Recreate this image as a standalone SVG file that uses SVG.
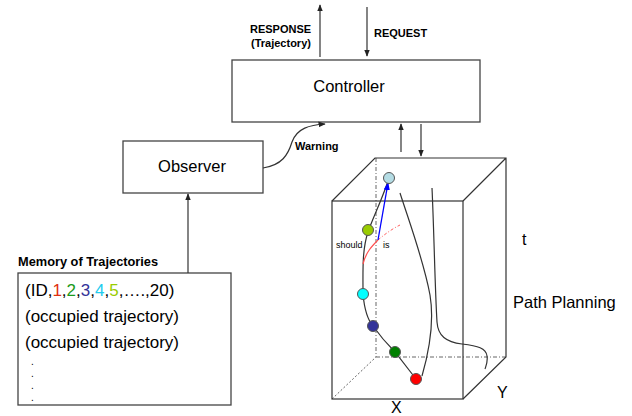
<svg xmlns="http://www.w3.org/2000/svg" width="632" height="416" viewBox="0 0 632 416">
<defs>
<style>
.box{fill:#fff;stroke:#444;stroke-width:1.3}
.t{font-family:"Liberation Sans",Arial,sans-serif;fill:#000}
.b{font-family:"Liberation Sans",Arial,sans-serif;font-weight:bold;fill:#000}
.ln{fill:none;stroke:#333;stroke-width:1.2}
.edge{fill:none;stroke:#333;stroke-width:1.2}
.hid{fill:none;stroke:#666;stroke-width:1;stroke-dasharray:4 2 1 2}
.dot{fill:none;stroke:#666;stroke-width:1;stroke-dasharray:2 2}
.pt{stroke:#555;stroke-width:1}
</style>
<marker id="ah" viewBox="0 0 10 10" refX="9" refY="5" markerWidth="6" markerHeight="6" orient="auto-start-reverse"><path d="M0,1 L10,5 L0,9 z" fill="#222"/></marker>
<marker id="ahb" viewBox="0 0 10 10" refX="9" refY="5" markerWidth="6" markerHeight="6" orient="auto"><path d="M0,1 L10,5 L0,9 z" fill="#0000ff"/></marker>
</defs>

<g id="controller">
<rect class="box" x="232" y="60" width="248" height="62"/>
<text class="t" x="349" y="92" font-size="16.5" text-anchor="middle">Controller</text>
</g>

<g id="observer">
<rect class="box" x="123" y="141" width="140" height="52"/>
<text class="t" x="192" y="172" font-size="16.5" text-anchor="middle">Observer</text>
</g>

<g id="memory">
<text class="b" x="18" y="266" font-size="12.8">Memory of Trajectories</text>
<rect class="box" x="18" y="273" width="213" height="132" stroke="#555" stroke-width="1.5"/>
<text class="t" x="25" y="296" font-size="17">(ID,<tspan fill="#e03010">1</tspan>,<tspan fill="#1a9a1a">2</tspan>,<tspan fill="#333399">3</tspan>,<tspan fill="#22ccee">4</tspan>,<tspan fill="#99cc00">5</tspan>,….,20)</text>
<text class="t" x="25" y="322" font-size="17">(occupied trajectory)</text>
<text class="t" x="25" y="348" font-size="17">(occupied trajectory)</text>
<text class="t" x="31" y="365" font-size="10">.</text>
<text class="t" x="31" y="377" font-size="10">.</text>
<text class="t" x="31" y="389" font-size="10">.</text>
<text class="t" x="31" y="401" font-size="10">.</text>
</g>

<g id="pathplanning">
<line class="hid" x1="376" y1="158" x2="376" y2="357"/>
<line class="hid" x1="376" y1="357" x2="506" y2="357"/>
<line class="dot" x1="332" y1="399" x2="376" y2="357"/>
<path class="edge" d="M332,201 L375,158 L506,158 L506,357 L463,399 M463,201 L506,158"/>
<rect x="332" y="201" width="131" height="198" fill="none" stroke="#333" stroke-width="1.2"/>
<path class="ln" d="M400,193 C412,230 424,262 430,295 C435,325 428,355 422,376"/>
<path class="ln" d="M432,188 C434,230 435,290 437,322 C438,336 446,342 462,344 C478,346 486,348 487,356 C488,362 486,366 485,369"/>
<path class="ln" d="M389,178 C382,200 374,215 368,232 C362,250 363,270 363,294 C364,305 366,318 373,326 C380,336 388,345 395,352 L416,379"/>
<path d="M363,264 C366,252 372,246 378,240" fill="none" stroke="#ff5050" stroke-width="1.2"/>
<path d="M378,240 C385,234 392,229 400,225" fill="none" stroke="#ff6060" stroke-width="1" stroke-dasharray="3 2 1 2"/>
<line x1="378" y1="240" x2="388" y2="183" stroke="#0000ff" stroke-width="1.3" marker-end="url(#ahb)"/>
<circle class="pt" cx="389" cy="178" r="5.5" fill="#b4dce4"/>
<circle class="pt" cx="368" cy="230" r="5.5" fill="#99cc00"/>
<circle class="pt" cx="363" cy="294" r="5.5" fill="#00ffff"/>
<circle class="pt" cx="373" cy="326" r="5.5" fill="#333399"/>
<circle class="pt" cx="395" cy="352" r="5.5" fill="#008000"/>
<circle class="pt" cx="416" cy="379" r="5.5" fill="#ff0000"/>
<text class="t" x="336" y="248" font-size="9">should</text>
<text class="t" x="383" y="248" font-size="9">is</text>
<text class="t" x="522" y="245" font-size="16">t</text>
<text class="t" x="513" y="308" font-size="16.5">Path Planning</text>
<text class="t" x="497" y="398" font-size="16">Y</text>
<text class="t" x="391" y="413" font-size="16">X</text>
</g>

<g id="connectors">
<line class="ln" x1="320" y1="57" x2="320" y2="5" marker-end="url(#ah)"/>
<line class="ln" x1="367" y1="7" x2="367" y2="56" marker-end="url(#ah)"/>
<text class="b" x="250" y="33" font-size="11">RESPONSE</text>
<text class="b" x="251" y="47" font-size="11">(Trajectory)</text>
<text class="b" x="374" y="37" font-size="11">REQUEST</text>
<path class="ln" d="M263,168 C282,165 288,155 292,142 C297,128 310,125 325,124" marker-end="url(#ah)"/>
<text class="b" x="295" y="150" font-size="11">Warning</text>
<line class="ln" x1="401" y1="152" x2="401" y2="124" marker-end="url(#ah)"/>
<line class="ln" x1="421" y1="124" x2="421" y2="156" marker-end="url(#ah)"/>
<line class="ln" x1="188" y1="273" x2="188" y2="194" marker-end="url(#ah)"/>
</g>
</svg>
